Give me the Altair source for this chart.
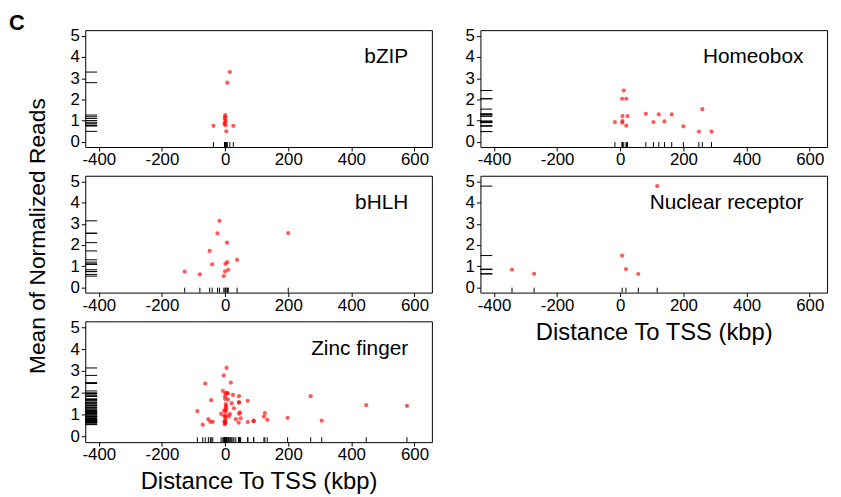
import altair as alt
import pandas as pd

# ---- data ----
bzip_x = [15, 7, -37, 26, 0, 1, -1, 2, 0, -2, 1, 4]
bzip_y = [3.29, 2.79, 0.75, 0.75, 1.26, 1.18, 1.10, 1.00, 0.92, 0.85, 0.78, 0.49]

homeo_x = [-17, 11, 6, 19, 7, 23, 7, 6, 19, 81, 105, 122, 140, 163, 200, 249, 260, 289]
homeo_y = [0.93, 2.42, 2.03, 2.03, 1.21, 1.21, 0.98, 0.90, 0.76, 1.32, 0.93, 1.29, 0.96, 1.29, 0.73, 0.48, 1.54, 0.48]

bhlh_x = [-128, -80, -41, -49, -24, -18, 6, 1, 7, 38, 0, 10, -4, 200]
bhlh_y = [0.74, 0.61, 1.08, 1.72, 2.55, 3.14, 2.11, 1.11, 1.19, 1.30, 0.75, 0.83, 0.53, 2.56]

nuc_x = [-343, -273, 6, 18, 57, 117]
nuc_y = [0.84, 0.64, 1.50, 0.86, 0.63, 4.78]

zinc_x = [4.5, -4, -63, 18, -7, 2, 9.5, 25, 44, 0, 9, -44, 71.5, 44, 44, 21, 2, 28, 2, 4,
          -88, 1, 47, 44, -12.5, 15, 1, -2, 12, 49.5, 34, -53, -47, -39, 72, 43, 90, 91,
          -2, 1, -1, -71, 126, 123, 133.5, 198, 306, 271, 447, 576,
          0, 0, 2, -3, 3, 0, 5]
zinc_y = [3.14, 2.80, 2.43, 2.47, 2.09, 1.98, 1.98, 1.91, 1.85, 1.73, 1.70, 1.67, 1.64, 1.58, 1.55, 1.53, 1.49, 1.30, 1.33, 1.25,
          1.17, 1.15, 1.11, 1.05, 1.04, 1.03, 0.98, 0.93, 0.93, 0.84, 0.80, 0.80, 0.68, 0.68, 0.67, 0.64, 0.73, 0.71,
          0.69, 0.66, 0.57, 0.55, 1.08, 0.92, 0.77, 0.86, 0.73, 1.85, 1.44, 1.41,
          0.62, 0.75, 0.85, 1.20, 1.40, 1.85, 2.00]

x_ticks = [-400, -200, 0, 200, 400, 600]
y_ticks = [0, 1, 2, 3, 4, 5]

FONT = "Liberation Sans"
W = 350
H1, H2, H3 = 118, 118, 122
GAP = 29


def text_layer(t, **kw):
    return alt.Chart(pd.DataFrame({"t": [t]})).mark_text(font=FONT, color="black", **kw)


def panel(name, xs, ys, h, xtitle=False, extras=()):
    df = pd.DataFrame({"x": xs, "y": ys})
    base = alt.Chart(df)
    xs_ = alt.Scale(domain=[-443, 655], nice=False, zero=False)
    ys_ = alt.Scale(domain=[-0.25, 5.27], nice=False, zero=False)
    xaxis = alt.Axis(values=x_ticks, labelExpr="'' + datum.value", labelPadding=1,
                     labelOverlap=False,
                     title="Distance To TSS (kbp)" if xtitle else "")
    yaxis = alt.Axis(values=y_ticks, labelExpr="'' + datum.value", title="",
                     labelPadding=2, labelOverlap=False)
    X = alt.X("x:Q", scale=xs_, axis=xaxis)
    Y = alt.Y("y:Q", scale=ys_, axis=yaxis)
    pts = base.mark_circle(size=18, color="#ff0000", opacity=0.65).encode(x=X, y=Y)
    yrug = base.mark_rule(color="black", strokeWidth=1).encode(
        y=Y, x=alt.value(0), x2=alt.value(12))
    xrug = base.mark_rule(color="black", strokeWidth=1).encode(
        x=X, y=alt.value(h), y2=alt.value(h - 5))
    lab = text_layer(name, align="right", baseline="middle", fontSize=21).encode(
        x=alt.X(datum=580, scale=xs_, axis=xaxis),
        y=alt.Y(datum=4.0, scale=ys_, axis=yaxis), text="t:N")
    layers = [pts, yrug, xrug, lab] + list(extras)
    return alt.layer(*layers).properties(width=W, height=h)


letter_c = text_layer("C", align="center", baseline="middle", fontSize=22,
                      fontWeight="bold").encode(x=alt.value(-69), y=alt.value(-7), text="t:N")
ytitle = text_layer("Mean of Normalized Reads", align="center", baseline="middle",
                    fontSize=23, angle=270).encode(
    x=alt.value(-48), y=alt.value((H1 + GAP + H2 + GAP + H3) / 2 - (H1 + GAP)), text="t:N")

chart = alt.concat(
    panel("bZIP", bzip_x, bzip_y, H1, extras=[letter_c]),
    panel("Homeobox", homeo_x, homeo_y, H1),
    panel("bHLH", bhlh_x, bhlh_y, H2, extras=[ytitle]),
    panel("Nuclear receptor", nuc_x, nuc_y, H2, xtitle=True),
    panel("Zinc finger", zinc_x, zinc_y, H3, xtitle=True),
    columns=2,
    spacing={"row": GAP, "column": 49},
    bounds="flush",
).properties(
    padding={"left": 0, "top": 1, "right": 5, "bottom": 0}
).configure_view(
    stroke="black", strokeWidth=1
).configure_axis(
    grid=False, domain=False, ticks=True, tickSize=4, tickColor="black",
    labelFont=FONT, labelFontSize=17, labelColor="black",
    titleFont=FONT, titleFontSize=24, titleFontWeight="normal", titleColor="black",
    titlePadding=7,
)

chart.save("out.html", embed_options={"renderer": "svg", "actions": False})
